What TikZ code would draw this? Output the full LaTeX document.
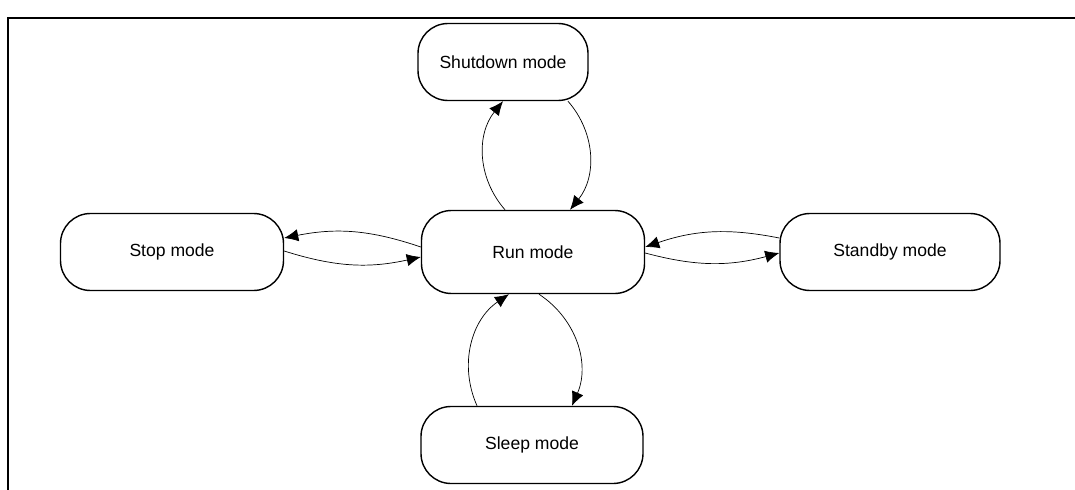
\documentclass[tikz,border=0pt]{standalone}
\usepackage{fontspec}
\setmainfont{Liberation Sans}
\usetikzlibrary{arrows.meta}
\tikzset{
  mode/.style={draw,thick,rounded corners=0.6cm,minimum height=77*0.02cm,align=center,font=\normalsize},
  link/.style={-{Latex[length=8pt,width=7pt]}}
}
\begin{document}
\begin{tikzpicture}[x=0.02cm,y=-0.02cm]
  \useasboundingbox (0,0) rectangle (1075,490);
  \draw [thick] (8,490) -- (8,18) -- (1075,18);
  \node [mode,minimum width=170*0.02cm] (shut) at (503,62) {Shutdown mode};
  \node [mode,minimum width=223*0.02cm,minimum height=83*0.02cm] (run) at (533,252) {Run mode};
  \node [mode,minimum width=223*0.02cm] (stop) at (172,252) {Stop mode};
  \node [mode,minimum width=220*0.02cm] (stby) at (890,252) {Standby mode};
  \node [mode,minimum width=222*0.02cm] (sleep) at (532,445) {Sleep mode};
  % horizontal pairs
  \draw [link] (run.west) ++(0,-5) to [bend right=15] ([yshift=0.28cm]stop.east);
  \draw [link] ([yshift=0.02cm]stop.east) to [bend right=15] ([yshift=-0.1cm]run.west);
  \draw [link] ([yshift=0.28cm]stby.west) to [bend right=15] ([yshift=0.1cm]run.east);
  \draw [link] ([yshift=-0.02cm]run.east) to [bend right=15] ([yshift=-0.02cm]stby.west);
  % vertical pairs
  \draw [link] ([xshift=-0.56cm]run.north) to [bend left=40] ([xshift=0cm]shut.south);
  \draw [link] ([xshift=1.3cm]shut.south) to [bend left=40] ([xshift=0.74cm]run.north);
  \draw [link] ([xshift=-1.1cm]sleep.north) to [bend left=40] ([xshift=-0.48cm]run.south);
  \draw [link] ([xshift=0.12cm]run.south) to [bend left=40] ([xshift=0.8cm]sleep.north);
\end{tikzpicture}
\end{document}
